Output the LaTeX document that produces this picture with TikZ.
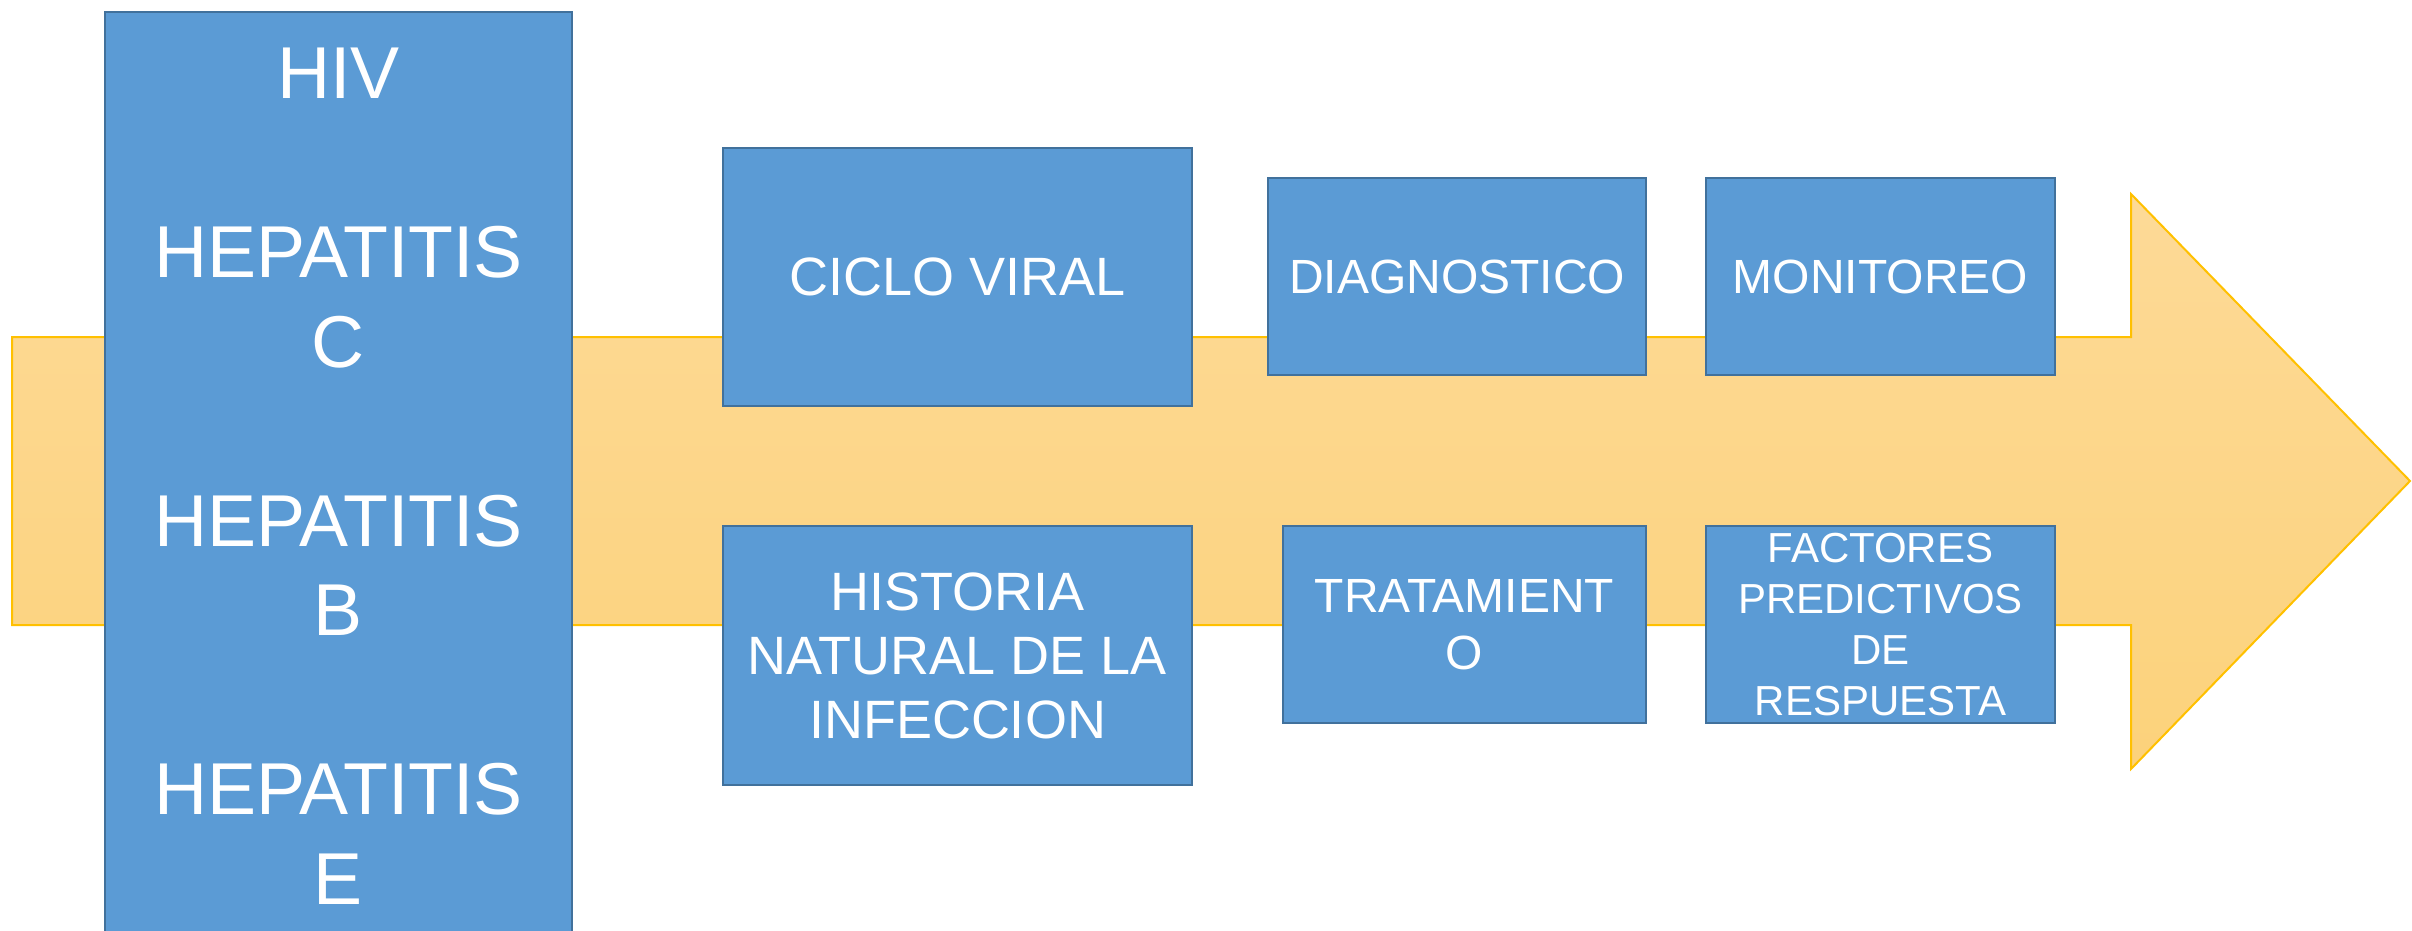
\documentclass[tikz,border=0pt]{standalone}
\usepackage{fontspec}
\setmainfont{Liberation Sans}
\definecolor{boxfill}{HTML}{5B9BD5}
\definecolor{boxline}{HTML}{41719C}
\definecolor{arrline}{HTML}{FFC000}
\definecolor{arrtop}{HTML}{FDDA97}
\definecolor{arrbot}{HTML}{FCD27B}
\tikzset{
  bluebox/.style={draw=boxline, line width=2.5pt, fill=boxfill, text=white,
    inner sep=0pt, outer sep=0pt, align=center},
  bigfont/.style={font=\fontsize{54}{64}\selectfont},
  midfont/.style={font=\fontsize{48}{57}\selectfont},
  smallfont/.style={font=\fontsize{42}{51}\selectfont},
}
\begin{document}
\begin{tikzpicture}[x=1pt,y=-1pt]
\useasboundingbox (0,0) rectangle (2412,931);
% big arrow
\path[draw=arrline, line width=2pt, top color=arrtop, bottom color=arrbot]
  (12,337) -- (2131,337) -- (2131,194) -- (2410,481) -- (2131,769)
  -- (2131,625) -- (12,625) -- cycle;
% left box
\node[bluebox, minimum width=467pt, minimum height=933pt] (virus) at (338.5,478.5) {};
\node[text=white, inner sep=0pt, align=center, anchor=base,
  font=\fontsize{73.5}{89.5}\selectfont] (viruslbl) at (338.5,904)
  {HIV\\[89.5pt]HEPATITIS\\C\\[89.5pt]HEPATITIS\\B\\[89.5pt]HEPATITIS\\E};
% top row
\node[bluebox, bigfont, minimum width=469pt, minimum height=258pt] (ciclo) at (957.5,277) {CICLO VIRAL};
\node[bluebox, midfont, minimum width=378pt, minimum height=197pt] (diag) at (1457,276.5) {DIAGNOSTICO};
\node[bluebox, midfont, minimum width=349pt, minimum height=197pt] (moni) at (1880.5,276.5) {MONITOREO};
% bottom row
\node[bluebox, bigfont, minimum width=469pt, minimum height=259pt] (hist) at (957.5,655.5) {HISTORIA\\NATURAL DE LA\\INFECCION};
\node[bluebox, midfont, minimum width=363pt, minimum height=197pt] (trat) at (1464.5,624.5) {TRATAMIENT\\O};
\node[bluebox, smallfont, minimum width=349pt, minimum height=197pt] (fact) at (1880.5,624.5) {FACTORES\\PREDICTIVOS\\DE\\RESPUESTA};
\end{tikzpicture}
\end{document}
